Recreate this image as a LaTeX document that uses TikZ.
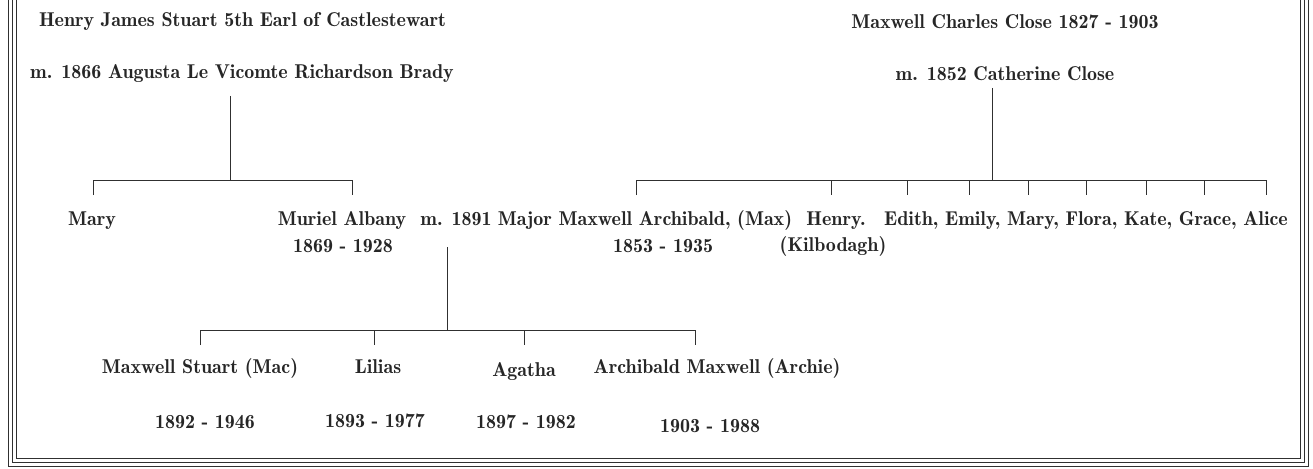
\documentclass[tikz,border=0pt]{standalone}
\definecolor{ink}{HTML}{262626}
\definecolor{rule}{HTML}{303030}
\begin{document}
\begin{tikzpicture}[x=1pt,y=-1pt,
  lbl/.style={anchor=base,inner sep=0pt,text=ink,font=\fontsize{20}{22}\fontseries{b}\selectfont},
  conn/.style={draw=rule,line width=1pt},
  frameline/.style={draw=rule,line width=1.2pt}]
\useasboundingbox (0,0) rectangle (1313,468);
% frame (open at top)
\draw[frameline] (16.7,0) -- (16.7,458.7) -- (1300.3,458.7) -- (1300.3,0);
\draw[frameline] (12.7,0) -- (12.7,462.5) -- (1304.3,462.5) -- (1304.3,0);
\draw[frameline] (8.7,0) -- (8.7,466.3) -- (1308.3,466.3) -- (1308.3,0);
% left parents
\node[lbl] (henry) at (242.5,26.5) {Henry James Stuart 5th Earl of Castlestewart};
\node[lbl] (m1866) at (242,78.5) {m. 1866 Augusta Le Vicomte Richardson Brady};
% right parents
\node[lbl] (maxcc) at (1005,29) {Maxwell Charles Close 1827 - 1903};
\node[lbl] (m1852) at (1005,81) {m. 1852 Catherine Close};
% second generation
\node[lbl] (mary) at (92,225.5) {Mary};
\node[lbl] (muriel) at (342,225.5) {Muriel Albany};
\node[lbl] (murielyrs) at (343,252.5) {1869 - 1928};
\node[lbl] (m1891) at (456,225.5) {m. 1891};
\node[lbl] (major) at (645,225.5) {Major Maxwell Archibald, (Max)};
\node[lbl] (majoryrs) at (663,252.5) {1853 - 1935};
\node[lbl] (henryk) at (836,225.5) {Henry.};
\node[lbl] (kilb) at (833,251) {(Kilbodagh)};
\node[lbl] (daughters) at (1086,225.5) {Edith, Emily, Mary, Flora, Kate, Grace, Alice};
% third generation
\node[lbl] (mac) at (200,373) {Maxwell Stuart (Mac)};
\node[lbl] (lilias) at (378,373) {Lilias};
\node[lbl] (agatha) at (524,376.5) {Agatha};
\node[lbl] (archie) at (717,373.5) {Archibald Maxwell (Archie)};
\node[lbl] (macyrs) at (205,428) {1892 - 1946};
\node[lbl] (liliasyrs) at (375,427) {1893 - 1977};
\node[lbl] (agathayrs) at (526,428) {1897 - 1982};
\node[lbl] (archieyrs) at (710,432) {1903 - 1988};
% left tree
\coordinate (ltop) at (230,96);
\coordinate (ljoin) at (230,180);
\coordinate (lA) at (93,180);
\coordinate (lB) at (352,180);
\coordinate (lAd) at (93,195);
\coordinate (lBd) at (352,195);
\draw[conn] (ltop) -- (ljoin);
\draw[conn] (lAd) -- (lA) -- (lB) -- (lBd);
% right tree
\coordinate (rtop) at (992,88);
\coordinate (rjoin) at (992,180);
\draw[conn] (rtop) -- (rjoin);
\draw[conn] (636,195) -- (636,180) -- (1266,180) -- (1266,195);
\foreach \xx in {831,907,969,1028,1086,1146,1204}{
  \draw[conn] (\xx,180) -- (\xx,195);
}
% bottom tree
\coordinate (btop) at (447,247);
\coordinate (bjoin) at (447,330);
\draw[conn] (btop) -- (bjoin);
\draw[conn] (200,345) -- (200,330) -- (695,330) -- (695,345);
\draw[conn] (374,330) -- (374,345);
\draw[conn] (524,330) -- (524,345);
\end{tikzpicture}
\end{document}
